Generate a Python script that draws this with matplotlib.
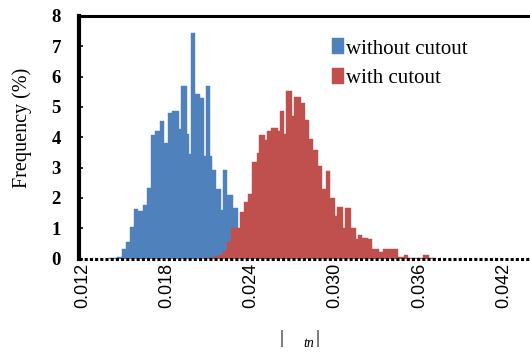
import numpy as np
import matplotlib.pyplot as plt

# histogram of |tau_tn| (frequency in %), bins of 0.00015
bin_width = 0.00015
blue_start = 0.0139
red_start = 0.02065

without_cutout = [
    0.02, 0.02, 0.03, 0.03, 0.04, 0.05,
    0.32, 0.32, 0.53, 0.53, 1.04, 1.04, 1.63, 1.63, 1.57, 1.57,
    1.78, 1.78, 2.34, 2.34, 4.07, 4.07, 4.21, 4.21, 4.54, 4.54,
    3.82, 3.82, 4.79, 4.79, 4.87, 4.87, 4.87, 4.28, 5.69, 5.69,
    5.69, 4.10, 3.45, 7.44, 7.44, 5.43, 5.43, 5.30, 5.30, 3.39,
    5.69, 5.69, 3.39, 2.93, 2.93, 2.29, 2.29, 1.59, 2.91, 2.91,
    2.11, 2.11, 2.11, 1.65, 1.65,
]

with_cutout = [
    0.02, 0.02, 0.03, 0.03, 0.04, 0.05, 0.07, 0.13, 0.13, 0.26,
    0.26, 0.53, 0.53, 0.99, 0.99, 0.99, 0.99, 1.52, 1.52, 1.85,
    1.85, 2.12, 2.12, 3.17, 3.17, 3.47, 4.06, 4.06, 4.06, 3.90,
    4.19, 4.19, 4.29, 4.29, 4.29, 4.19, 4.85, 4.85, 4.11, 5.52,
    5.52, 5.52, 4.69, 5.32, 5.32, 5.32, 5.12, 5.12, 4.56, 4.56,
    3.93, 3.93, 3.57, 3.57, 3.04, 3.04, 2.28, 2.28, 2.88, 2.88,
    1.98, 1.98, 1.39, 1.69, 1.69, 1.69, 0.99, 1.65, 1.65, 1.65,
    0.99, 0.99, 0.63, 0.79, 0.79, 0.69, 0.69, 0.69, 0.63, 0.63,
    0.33, 0.33, 0.33, 0.23, 0.23, 0.30, 0.30, 0.30, 0.30, 0.30,
    0.33, 0.33, 0.05, 0.05, 0.05, 0.13, 0.13, 0.03, 0.03, 0.03,
    0.03, 0.03, 0.03, 0.03, 0.13, 0.13, 0.13, 0.03, 0.03, 0.03,
]

x_ticks = [0.012, 0.018, 0.024, 0.030, 0.036, 0.042]
y_ticks = [0, 1, 2, 3, 4, 5, 6, 7, 8]

blue = "#4F81BD"
red = "#C0504D"

blue_edges = blue_start + bin_width * np.arange(len(without_cutout))
red_edges = red_start + bin_width * np.arange(len(with_cutout))

fig = plt.figure(figsize=(5.3, 3.52), dpi=100)
ax = fig.add_axes([0.149, 0.2656, 0.851, 0.689])

ax.bar(blue_edges, without_cutout, width=bin_width, align="edge",
       color=blue, edgecolor=blue, linewidth=0.3, label="without cutout")
ax.bar(red_edges, with_cutout, width=bin_width, align="edge",
       color=red, edgecolor=red, linewidth=0.3, label="with cutout")

ax.set_xlim(0.011765, 0.04386)
ax.set_ylim(0, 8)

# dotted baseline instead of a bottom spine
ax.axhline(0, color="black", lw=2.2, linestyle=(0, (1, 0.7)), zorder=5,
           clip_on=False)
ax.spines["bottom"].set_visible(False)
ax.spines["right"].set_visible(False)
ax.spines["left"].set_linewidth(3.0)
ax.spines["top"].set_linewidth(2.2)

ax.set_xticks(x_ticks)
ax.set_xticklabels(["%.3f" % v for v in x_ticks], rotation=90,
                   fontfamily="Liberation Sans", fontsize=13)
ax.tick_params(axis="x", length=0, pad=3)

ax.set_yticks(y_ticks)
ax.set_yticklabels([str(v) for v in y_ticks], fontfamily="Liberation Serif",
                   fontweight="bold", fontsize=13.5)
ax.tick_params(axis="y", direction="in", length=3, width=1.2, pad=13)

ax.set_ylabel("Frequency (%)", fontfamily="Liberation Serif", fontsize=14.5)
ax.yaxis.set_label_coords(-0.105, 0.538)

leg = ax.legend(loc="upper left", bbox_to_anchor=(0.542, 0.942), frameon=False,
                prop={"family": "Liberation Serif", "size": 15},
                handlelength=0.6, handleheight=0.8, handletextpad=0.1,
                labelspacing=0.45, borderaxespad=0)

# x label: |tau_tn| (the tau glyph is missing in the original)
fig.text(0.528, 0.025, "|", fontfamily="Liberation Serif", fontsize=14)
fig.text(0.572, 0.015, "tn", fontfamily="Liberation Serif", fontsize=10,
         style="italic")
fig.text(0.596, 0.025, "|", fontfamily="Liberation Serif", fontsize=14)

fig.savefig("out.png", dpi=100)
